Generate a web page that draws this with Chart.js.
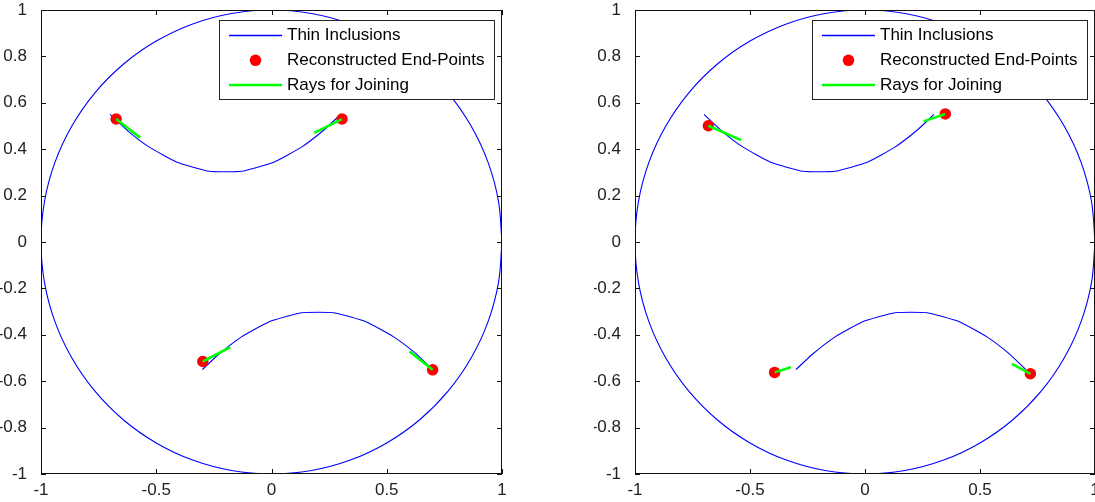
<!DOCTYPE html>
<html>
<head>
<meta charset="utf-8">
<script src="https://cdn.jsdelivr.net/npm/chart.js@4.4.0/dist/chart.umd.min.js"></script>
<style>
  body { margin: 0; background: #fff; }
  canvas { position: absolute; top: 0; }
  #left { left: 0; }
  #right { left: 594px; }
</style>
</head>
<body>
<canvas id="left" width="520" height="502"></canvas>
<canvas id="right" width="501" height="502"></canvas>
<script>
// unit circle (domain boundary), 10 degree steps
const circleX = [1, 0.985, 0.940, 0.866, 0.766, 0.643, 0.5, 0.342, 0.174, 0,
  -0.174, -0.342, -0.5, -0.643, -0.766, -0.866, -0.940, -0.985, -1,
  -0.985, -0.940, -0.866, -0.766, -0.643, -0.5, -0.342, -0.174, 0,
  0.174, 0.342, 0.5, 0.643, 0.766, 0.866, 0.940, 0.985, 1];
const circleY = [0, 0.174, 0.342, 0.5, 0.643, 0.766, 0.866, 0.940, 0.985, 1,
  0.985, 0.940, 0.866, 0.766, 0.643, 0.5, 0.342, 0.174, 0,
  -0.174, -0.342, -0.5, -0.643, -0.766, -0.866, -0.940, -0.985, -1,
  -0.985, -0.940, -0.866, -0.766, -0.643, -0.5, -0.342, -0.174, 0];

// the two thin inclusions (same in both panels)
const upperArcX = [-0.70, -0.62, -0.53, -0.41, -0.27, -0.13, 0.01, 0.13, 0.23, 0.30];
const upperArcY = [0.55, 0.476, 0.409, 0.344, 0.305, 0.305, 0.344, 0.409, 0.485, 0.55];
const lowerArcX = [-0.30, -0.23, -0.13, -0.01, 0.13, 0.27, 0.41, 0.53, 0.62, 0.70];
const lowerArcY = [-0.55, -0.485, -0.409, -0.344, -0.305, -0.305, -0.344, -0.409, -0.476, -0.55];

// reconstructed end-points and tips of the joining rays
const leftEndX = [-0.674, 0.306, -0.298, 0.699];
const leftEndY = [0.530, 0.530, -0.515, -0.551];
const leftRayX = [-0.570, 0.185, -0.179, 0.599];
const leftRayY = [0.450, 0.470, -0.453, -0.472];

const rightEndX = [-0.681, 0.349, -0.393, 0.719];
const rightEndY = [0.501, 0.552, -0.562, -0.568];
const rightRayX = [-0.539, 0.255, -0.322, 0.639];
const rightRayY = [0.439, 0.520, -0.540, -0.525];

const xTickValues = [-1, -0.5, 0, 0.5, 1];
const yTickValues = [-1, -0.8, -0.6, -0.4, -0.2, 0, 0.2, 0.4, 0.6, 0.8, 1];
const legendLabels = ['Thin Inclusions', 'Reconstructed End-Points', 'Rays for Joining'];

const BLUE = '#0000ff', RED = '#ff0000', GREEN = '#00ff00';
const FAMILY = '"Liberation Sans", Arial, sans-serif';
const FONT = '17px ' + FAMILY;

const zip = (xs, ys) => xs.map((x, i) => ({ x: x, y: ys[i] }));
const fmt = v => String(Number(v.toFixed(2)));

// MATLAB style box with inward ticks, plus the legend
const boxPlugin = {
  id: 'matlabBox',
  afterDraw(chart) {
    const { ctx, chartArea: a, scales } = chart;
    ctx.save();
    ctx.strokeStyle = '#111';
    ctx.lineWidth = 1;
    ctx.strokeRect(a.left + 0.5, a.top + 0.5, a.right - a.left - 1, a.bottom - a.top - 1);
    ctx.beginPath();
    scales.x.ticks.forEach(t => {
      const px = Math.round(scales.x.getPixelForValue(t.value)) + 0.5;
      ctx.moveTo(px, a.bottom); ctx.lineTo(px, a.bottom - 5);
      ctx.moveTo(px, a.top); ctx.lineTo(px, a.top + 5);
    });
    scales.y.ticks.forEach(t => {
      const py = Math.round(scales.y.getPixelForValue(t.value)) + 0.5;
      ctx.moveTo(a.left, py); ctx.lineTo(a.left + 5, py);
      ctx.moveTo(a.right, py); ctx.lineTo(a.right - 5, py);
    });
    ctx.stroke();

    // legend
    ctx.font = FONT;
    const tw = Math.max(...legendLabels.map(t => ctx.measureText(t).width));
    const w = Math.round(68 + tw + 10), h = 79;
    const left = Math.round(a.right - 8 - w), top = a.top + 10;
    ctx.fillStyle = '#fff';
    ctx.fillRect(left, top, w, h);
    ctx.strokeStyle = '#222';
    ctx.strokeRect(left + 0.5, top + 0.5, w, h);
    const rows = [top + 15.5, top + 40.3, top + 65];
    ctx.strokeStyle = BLUE; ctx.lineWidth = 1.4;
    ctx.beginPath(); ctx.moveTo(left + 10, rows[0]); ctx.lineTo(left + 63, rows[0]); ctx.stroke();
    ctx.fillStyle = RED;
    ctx.beginPath(); ctx.arc(left + 36.5, rows[1], 5.8, 0, Math.PI * 2); ctx.fill();
    ctx.strokeStyle = GREEN; ctx.lineWidth = 2.7;
    ctx.beginPath(); ctx.moveTo(left + 10, rows[2]); ctx.lineTo(left + 63, rows[2]); ctx.stroke();
    ctx.fillStyle = '#000';
    ctx.textBaseline = 'middle';
    legendLabels.forEach((t, i) => ctx.fillText(t, left + 68, rows[i]));
    ctx.restore();
  }
};

function makePanel(id, endX, endY, rayX, rayY, padRight) {
  const rays = endX.map((x, i) => ({
    data: [{ x: x, y: endY[i] }, { x: rayX[i], y: rayY[i] }],
    showLine: true, borderColor: GREEN, borderWidth: 2.6, pointRadius: 0
  }));
  const blue = (d, tension) => ({
    data: d, showLine: true, borderColor: BLUE, borderWidth: 1.1, pointRadius: 0, tension: tension || 0
  });

  new Chart(document.getElementById(id), {
    type: 'scatter',
    data: {
      datasets: [
        ...rays,
        {
          data: zip(endX, endY), pointRadius: 5, pointBorderWidth: 1.5,
          backgroundColor: RED, borderColor: RED, pointStyle: 'circle'
        },
        blue(zip(upperArcX, upperArcY), 0.15),
        blue(zip(lowerArcX, lowerArcY), 0.15),
        blue(zip(circleX, circleY), 0.34)
      ]
    },
    options: {
      responsive: false,
      animation: false,
      layout: { autoPadding: false, padding: { top: 10, right: padRight, left: 0, bottom: 0 } },
      plugins: { legend: { display: false }, tooltip: { enabled: false } },
      scales: {
        x: {
          type: 'linear', min: -1, max: 1,
          grid: { display: false }, border: { display: false },
          afterBuildTicks: s => { s.ticks = xTickValues.map(v => ({ value: v })); },
          afterFit: s => { s.height = 28; s.paddingLeft = 0; s.paddingRight = 0; },
          ticks: { callback: fmt, color: '#222', font: { family: FAMILY, size: 17 }, padding: -2, maxRotation: 0, autoSkip: false }
        },
        y: {
          type: 'linear', min: -1, max: 1,
          grid: { display: false }, border: { display: false },
          afterBuildTicks: s => { s.ticks = yTickValues.map(v => ({ value: v })); },
          afterFit: s => { s.width = 41; s.paddingTop = 0; s.paddingBottom = 0; },
          ticks: { callback: fmt, color: '#222', font: { family: FAMILY, size: 17 }, padding: 6, autoSkip: false }
        }
      }
    },
    plugins: [boxPlugin]
  });
}

makePanel('left', leftEndX, leftEndY, leftRayX, leftRayY, 18);
makePanel('right', rightEndX, rightEndY, rightRayX, rightRayY, 0);
</script>
</body>
</html>
